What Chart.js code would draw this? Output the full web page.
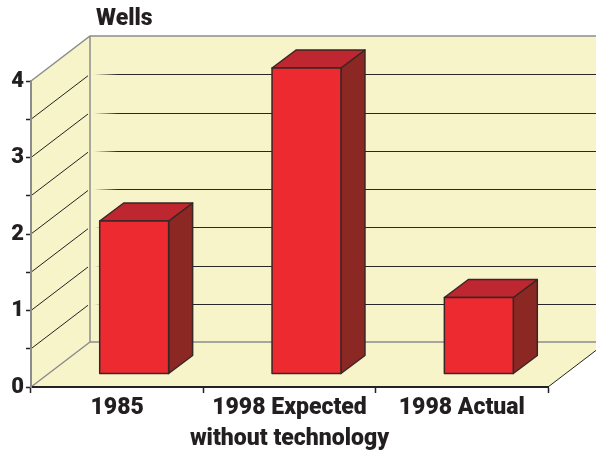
<!DOCTYPE html>
<html>
<head>
<meta charset="utf-8">
<script src="https://cdn.jsdelivr.net/npm/chart.js@4/dist/chart.umd.min.js"></script>
<style>
  body { margin: 0; background: #fff; }
  canvas { display: block; }
</style>
</head>
<body>
<canvas id="wellsChart" width="596" height="453"></canvas>
<script>
// Wells chart data
const categories = ['1985', ['1998 Expected', 'without technology'], '1998 Actual'];
const wells = [2, 4, 1];
const yTicks = [0, 1, 2, 3, 4];

const FONT = 'Roboto, "Liberation Sans", sans-serif';
const CREAM = '#f7f4ca';
const DEPTH = { dx: 59, dy: 45 };     // wall depth
const BAR_SHIFT = { dx: 17, dy: 13 }; // bar front face offset into the box
const BAR_DEPTH = { dx: 24, dy: 18 };

const box3d = {
    id: 'box3d',
    beforeDraw(chart) {
        const { ctx, scales: { x, y } } = chart;
        const L = x.left, R = x.right;
        const T = y.getPixelForValue(4), B = y.getPixelForValue(0);
        const dx = DEPTH.dx, dy = DEPTH.dy;
        const W = chart.width;

        ctx.save();
        ctx.fillStyle = CREAM;
        // back wall
        ctx.fillRect(L + dx, T - dy, W - L - dx, B - T);
        // side wall
        ctx.beginPath();
        ctx.moveTo(L, B); ctx.lineTo(L, T); ctx.lineTo(L + dx, T - dy); ctx.lineTo(L + dx, B - dy);
        ctx.closePath(); ctx.fill();
        // floor
        ctx.beginPath();
        ctx.moveTo(L, B); ctx.lineTo(R, B); ctx.lineTo(R + dx, B - dy); ctx.lineTo(L + dx, B - dy);
        ctx.closePath(); ctx.fill();

        // back wall grid lines
        const grad = ctx.createLinearGradient(L + dx + 4, 0, L + dx + 28, 0);
        grad.addColorStop(0, 'rgba(40,40,40,0)');
        grad.addColorStop(1, 'rgba(40,40,40,1)');
        ctx.strokeStyle = grad;
        ctx.lineWidth = 1.2;
        for (let v = 0.5; v < 4; v += 0.5) {
            const py = Math.round(y.getPixelForValue(v) - dy) + 0.5;
            ctx.beginPath(); ctx.moveTo(L + dx, py); ctx.lineTo(W, py); ctx.stroke();
        }
        // side wall grid lines
        ctx.strokeStyle = '#222';
        ctx.lineWidth = 1;
        for (let v = 0.5; v < 4; v += 0.5) {
            const py = y.getPixelForValue(v);
            ctx.beginPath(); ctx.moveTo(L, py); ctx.lineTo(L + dx - 2, py - dy + 1.5); ctx.stroke();
        }
        // box edges
        ctx.strokeStyle = '#8c8c8c';
        ctx.lineWidth = 1.5;
        ctx.beginPath();
        ctx.moveTo(L, T); ctx.lineTo(L + dx, T - dy); ctx.lineTo(W, T - dy);
        ctx.moveTo(L + dx, T - dy); ctx.lineTo(L + dx, B - dy); ctx.lineTo(W, B - dy);
        ctx.moveTo(L, B); ctx.lineTo(L + dx, B - dy);
        ctx.stroke();
        ctx.strokeStyle = '#222';
        ctx.lineWidth = 1;
        ctx.beginPath(); ctx.moveTo(R, B); ctx.lineTo(R + dx, B - dy); ctx.stroke();

        // axis title
        ctx.fillStyle = '#231f20';
        ctx.font = '900 23px ' + FONT;
        ctx.textBaseline = 'alphabetic';
        ctx.fillText('Wells', 96, 25);
        ctx.restore();
    },
    afterDatasetsDraw(chart) {
        const { ctx } = chart;
        const meta = chart.getDatasetMeta(0);
        ctx.save();
        ctx.lineJoin = 'round';
        ctx.strokeStyle = '#3b2626';
        ctx.lineWidth = 1.5;
        meta.data.forEach(bar => {
            const x0 = bar.x - bar.width / 2 + BAR_SHIFT.dx;
            const x1 = x0 + bar.width;
            const yt = bar.y - BAR_SHIFT.dy;
            const yb = bar.base - BAR_SHIFT.dy;
            const bx = BAR_DEPTH.dx, by = BAR_DEPTH.dy;

            // side
            ctx.fillStyle = '#8b2823';
            ctx.beginPath();
            ctx.moveTo(x1, yt); ctx.lineTo(x1 + bx, yt - by); ctx.lineTo(x1 + bx, yb - by); ctx.lineTo(x1, yb);
            ctx.closePath(); ctx.fill(); ctx.stroke();
            // top
            ctx.fillStyle = '#be2630';
            ctx.beginPath();
            ctx.moveTo(x0, yt); ctx.lineTo(x0 + bx, yt - by); ctx.lineTo(x1 + bx, yt - by); ctx.lineTo(x1, yt);
            ctx.closePath(); ctx.fill(); ctx.stroke();
            // front
            ctx.fillStyle = '#ec2a2f';
            ctx.fillRect(x0, yt, bar.width, yb - yt);
            ctx.strokeRect(x0, yt, bar.width, yb - yt);
        });
        ctx.restore();
    }
};

new Chart(document.getElementById('wellsChart'), {
    type: 'bar',
    data: {
        labels: categories,
        datasets: [{
            data: wells,
            backgroundColor: 'rgba(0,0,0,0)',
            borderWidth: 0,
            barPercentage: 0.5,
            categoryPercentage: 0.8
        }]
    },
    options: {
        responsive: false,
        animation: false,
        events: [],
        layout: { padding: { top: 81, right: 48, left: 0, bottom: 0 } },
        plugins: {
            legend: { display: false },
            tooltip: { enabled: false }
        },
        scales: {
            x: {
                afterFit(scale) { scale.height = 66; },
                grid: { offset: true, drawOnChartArea: false, tickLength: 6, tickColor: '#222', tickWidth: 1.5 },
                border: { color: '#222', width: 2 },
                ticks: {
                    color: '#231f20',
                    padding: 0,
                    maxRotation: 0,
                    autoSkip: false,
                    font: { family: FONT, size: 23, weight: 900, lineHeight: 1.35 }
                }
            },
            y: {
                min: 0,
                max: 4,
                afterFit(scale) { scale.width = 31; },
                grid: { drawOnChartArea: false, tickLength: 5, tickColor: '#222', tickWidth: 1.5 },
                border: { color: '#8c8c8c', width: 2 },
                ticks: {
                    stepSize: 0.5,
                    padding: 2,
                    color: '#231f20',
                    font: { family: FONT, size: 22, weight: 900 },
                    callback: v => (yTicks.includes(v) ? v : '')
                }
            }
        }
    },
    plugins: [box3d]
});
</script>
</body>
</html>
